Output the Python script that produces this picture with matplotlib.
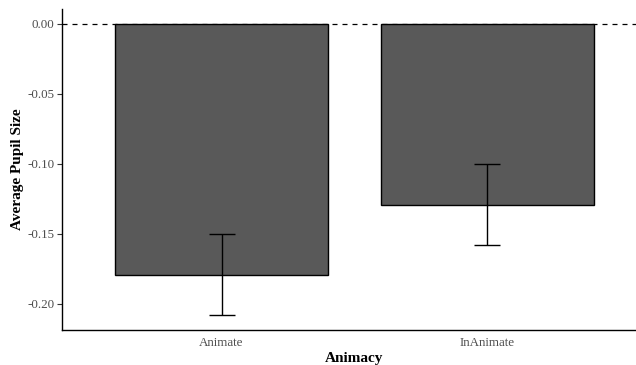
import numpy as np
import matplotlib.pyplot as plt

plt.rcParams['font.family'] = ['Liberation Serif', 'DejaVu Serif']

# mean pupil size per animacy condition, with standard errors
conditions = ['Animate', 'InAnimate']
means = [-0.179, -0.129]
errors = [0.029, 0.029]

fig = plt.figure(figsize=(6.36, 3.65), dpi=100)
# panel runs slightly past the right edge of the canvas
ax = fig.add_axes([62 / 636, 35 / 365, 585 / 636, 321 / 365])

x = np.arange(1, len(conditions) + 1)
ax.bar(x, means, width=0.8, color='#595959', edgecolor='black', linewidth=1.0, zorder=2)
ax.errorbar(x, means, yerr=errors, fmt='none', ecolor='black',
            elinewidth=1.0, capsize=9.7, capthick=1.0, zorder=3)
ax.axhline(0, color='black', linestyle=(0, (4, 4)), linewidth=0.9, zorder=1)

ax.set_xlim(0.4, 2.6)
ax.set_ylim(-0.2186, 0.0107)
ax.set_xticks(x)
ax.set_xticklabels(conditions)
ax.set_yticks([0.0, -0.05, -0.10, -0.15, -0.20])
ax.set_yticklabels(['0.00', '-0.05', '-0.10', '-0.15', '-0.20'])

ax.tick_params(axis='y', length=3.5, width=0.8, color='#333333',
               labelcolor='#4D4D4D', labelsize=9.4, pad=2)
ax.tick_params(axis='x', length=0, labelcolor='#4D4D4D', labelsize=9.4, pad=5)

for side in ['top', 'right']:
    ax.spines[side].set_visible(False)
for side in ['left', 'bottom']:
    ax.spines[side].set_linewidth(1.0)
    ax.spines[side].set_color('black')

ax.set_xlabel('Animacy', fontsize=11, fontweight='bold', labelpad=2)
ax.set_ylabel('Average Pupil Size', fontsize=11, fontweight='bold', labelpad=2)

fig.savefig('out.png', dpi=100)
